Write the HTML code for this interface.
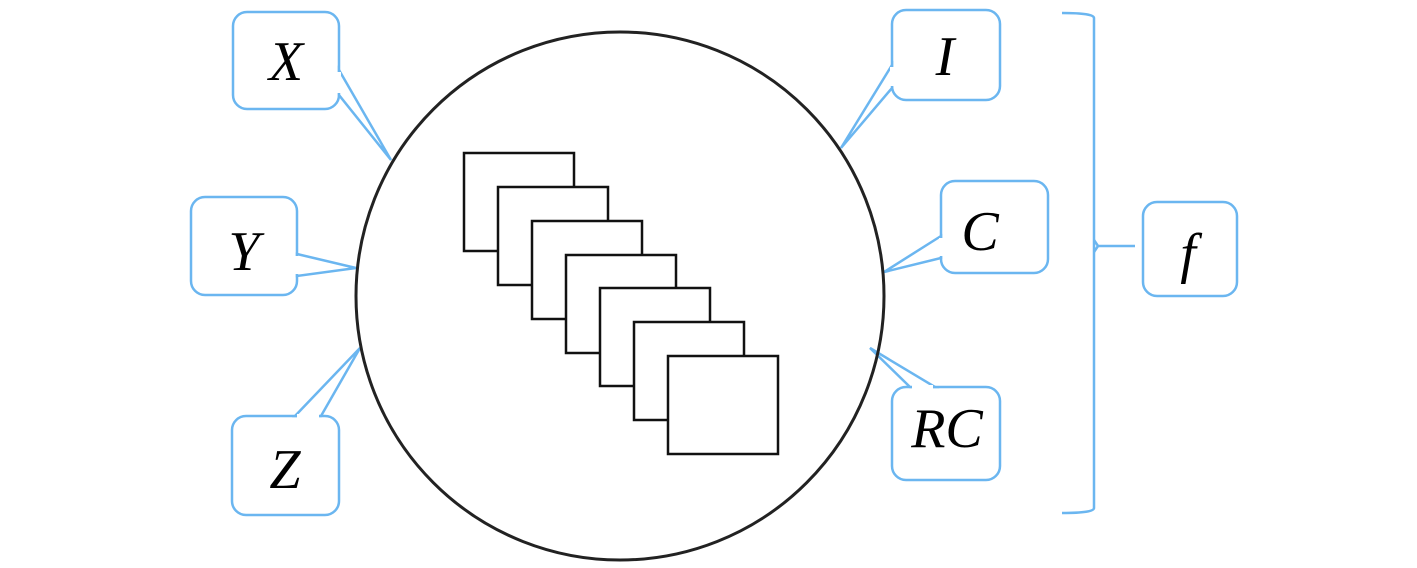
<!DOCTYPE html>
<html><head><style>
html,body{margin:0;padding:0;background:#fff;}
svg{display:block;}
text{font-family:"Liberation Serif",serif;font-style:italic;font-size:56px;fill:#000;}
</style></head><body>
<svg width="1417" height="568" viewBox="0 0 1417 568" xmlns="http://www.w3.org/2000/svg">
<g fill="#fff" stroke="#6bb6f0" stroke-width="2.5">
  <!-- X -->
  <rect x="233" y="12" width="106" height="97" rx="14"/>
  <polygon points="339,70 391,160 339,95"/>
  <line x1="339" y1="72" x2="339" y2="93" stroke="#fff" stroke-width="4"/>
  <!-- Y -->
  <rect x="191" y="197" width="106" height="98" rx="14"/>
  <polygon points="297,254 356,268 297,276"/>
  <line x1="297" y1="256" x2="297" y2="274" stroke="#fff" stroke-width="4"/>
  <!-- Z -->
  <rect x="232" y="416" width="107" height="99" rx="14"/>
  <polygon points="295,416 360,348 321,416"/>
  <line x1="297" y1="416" x2="319" y2="416" stroke="#fff" stroke-width="4"/>
  <!-- I -->
  <rect x="892" y="10" width="108" height="90" rx="14"/>
  <polygon points="892,65 841,148 892,88"/>
  <line x1="892" y1="67" x2="892" y2="86" stroke="#fff" stroke-width="4"/>
  <!-- C -->
  <rect x="941" y="181" width="107" height="92" rx="14"/>
  <polygon points="941,236 884,272 941,258"/>
  <line x1="941" y1="238" x2="941" y2="256" stroke="#fff" stroke-width="4"/>
  <!-- RC -->
  <rect x="892" y="387" width="108" height="93" rx="14"/>
  <polygon points="910,387 870,348 935,387"/>
  <line x1="912" y1="387" x2="933" y2="387" stroke="#fff" stroke-width="4"/>
  <!-- f -->
  <rect x="1143" y="202" width="94" height="94" rx="14"/>
  <!-- bracket -->
  <path d="M1062,13 Q1094,13 1094,18 L1094,508 Q1094,513 1062,513" fill="none"/>
  <path d="M1094,240 L1098,246 L1135,246 M1094,252 L1098,246" fill="none"/>
</g>
<circle cx="620" cy="296" r="264" fill="none" stroke="#222" stroke-width="3"/>
<g fill="#fff" stroke="#111" stroke-width="2.5">
  <rect x="464" y="153" width="110" height="98"/>
  <rect x="498" y="187" width="110" height="98"/>
  <rect x="532" y="221" width="110" height="98"/>
  <rect x="566" y="255" width="110" height="98"/>
  <rect x="600" y="288" width="110" height="98"/>
  <rect x="634" y="322" width="110" height="98"/>
  <rect x="668" y="356" width="110" height="98"/>
</g>
<text x="286" y="80" text-anchor="middle">X</text>
<text x="244" y="270" text-anchor="middle">Y</text>
<text x="285" y="488" text-anchor="middle">Z</text>
<text x="945" y="75" text-anchor="middle">I</text>
<text x="980" y="250" text-anchor="middle">C</text>
<text x="947" y="447" text-anchor="middle">RC</text>
<text x="1188" y="272" text-anchor="middle">f</text>
</svg>
</body></html>
